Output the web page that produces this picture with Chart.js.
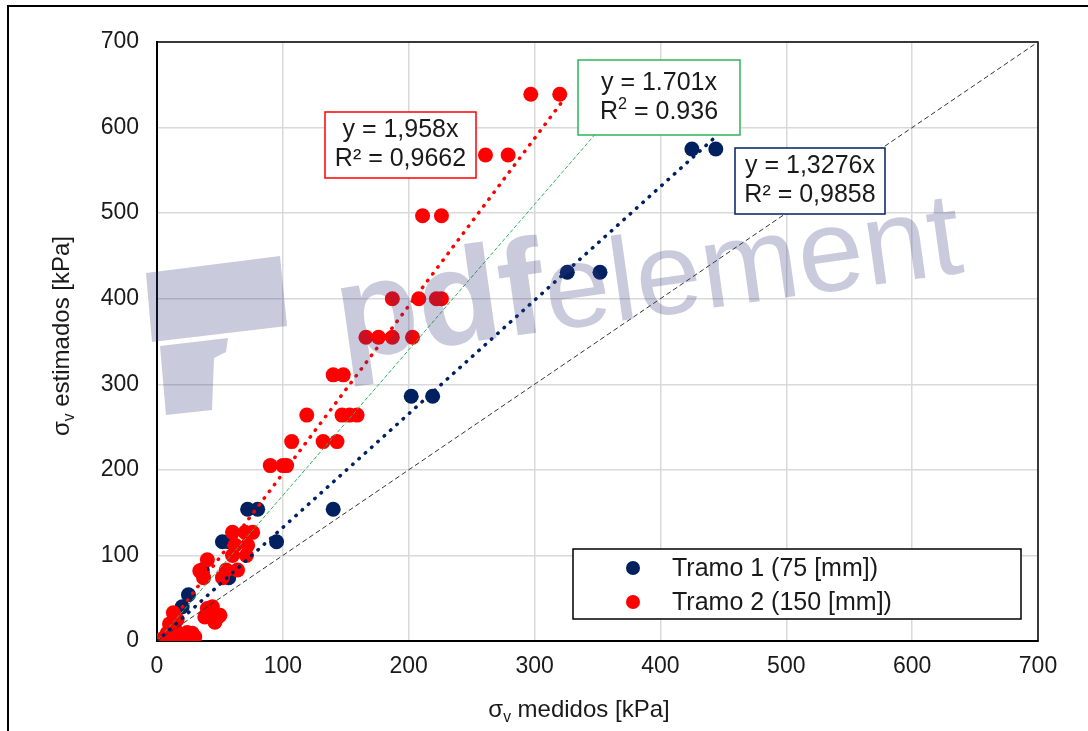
<!DOCTYPE html>
<html>
<head>
<meta charset="utf-8">
<script src="https://cdn.jsdelivr.net/npm/chart.js"></script>
<style>
  html, body { margin: 0; padding: 0; background: #fff; }
  #wrap { width: 1088px; height: 731px; }
</style>
</head>
<body>
<div id="wrap"><canvas id="myChart" width="1088" height="731"></canvas></div>
<script>
// Tramo 1 (75 mm) - measured vs estimated
const tramo1X = [0, 2, 20, 25, 36, 52, 57, 57, 95, 72, 80, 140, 202, 219, 326, 352, 425, 444];
const tramo1Y = [0, 1, 40, 54, 83, 116, 116, 74, 116, 154, 154, 154, 286, 286, 431, 431, 575, 575];

// Tramo 2 (150 mm)
const tramo2X = [2, 5, 8, 12, 15, 18, 22, 24, 28, 30, 10, 13, 16, 38, 40, 44, 48, 46, 50,
                 34, 37, 40, 52, 55, 64, 60, 71, 62, 72, 60, 70, 76, 90, 100, 103,
                 107, 132, 143, 119, 147, 153, 159, 140, 148, 166, 176, 187, 203,
                 187, 208, 222, 226, 211, 226, 261, 279, 297, 320];
const tramo2Y = [1, 3, 9, 5, 12, 6, 8, 10, 9, 5, 20, 33, 25, 28, 38, 40, 28, 22, 30,
                 82, 74, 95, 74, 83, 83, 100, 100, 112, 112, 127, 127, 127, 205, 205, 205,
                 233, 233, 233, 264, 264, 264, 264, 311, 311, 355, 355, 355, 355,
                 400, 400, 400, 400, 497, 497, 568, 568, 639, 639];

// trend lines: slope from the printed equations, x range of the fit
const trendNames = ['Lineal T1', 'Lineal T2', 'Lineal global'];
const trendSlopes = [1.3276, 1.958, 1.701];
const trendXEnd = [445, 323, 350];
const identityX = [0, 700];

const fitText = [
    ['y = 1,3276x', 'R² = 0,9858'],
    ['y = 1,958x', 'R² = 0,9662'],
    ['y = 1.701x', 'R2 = 0.936']
];

const axisTicks = [0, 100, 200, 300, 400, 500, 600, 700];

const navy = '#002060';
const red = '#ff0000';
const green = '#2db45a';

function toPoints(xs, ys) {
    return xs.map((x, i) => ({ x: x, y: ys[i] }));
}

function trendPoints(k) {
    return [{ x: 0, y: 0 }, { x: trendXEnd[k], y: trendXEnd[k] * trendSlopes[k] }];
}

const FONT = "'Liberation Sans', Arial, sans-serif";

// text with a subscript / superscript part
function drawParts(ctx, parts, cx, cy, size) {
    let w = 0;
    parts.forEach(p => {
        ctx.font = (p.sub || p.sup ? size * 0.65 : size) + 'px ' + FONT;
        p.w = ctx.measureText(p.t).width;
        w += p.w;
    });
    let x = cx - w / 2;
    ctx.textBaseline = 'middle';
    ctx.textAlign = 'left';
    parts.forEach(p => {
        ctx.font = (p.sub || p.sup ? size * 0.65 : size) + 'px ' + FONT;
        let dy = p.sub ? size * 0.3 : (p.sup ? -size * 0.3 : 0);
        ctx.fillText(p.t, x, cy + dy);
        x += p.w;
    });
}

function fitBox(ctx, x, y, w, h, color, lines, lineGap) {
    ctx.save();
    ctx.fillStyle = '#fff';
    ctx.fillRect(x, y, w, h);
    ctx.strokeStyle = color;
    ctx.lineWidth = 1.5;
    ctx.strokeRect(x, y, w, h);
    ctx.fillStyle = '#1a1a1a';
    const cx = x + w / 2;
    const cy = y + h / 2;
    lines.forEach((ln, i) => {
        const yy = cy + (i - 0.5) * lineGap;
        if (ln.indexOf('R2') === 0) {
            drawParts(ctx, [{ t: 'R' }, { t: '2', sup: true }, { t: ln.slice(2) }], cx, yy, 25);
        } else {
            drawParts(ctx, [{ t: ln }], cx, yy, 25);
        }
    });
    ctx.restore();
}

const decorPlugin = {
    id: 'decor',
    beforeDatasetsDraw(chart) {
        const ctx = chart.ctx;
        const a = chart.chartArea;
        ctx.save();
        ctx.strokeStyle = '#000';
        ctx.lineWidth = 1.5;
        ctx.strokeRect(a.left, a.top, a.right - a.left, a.bottom - a.top);
        ctx.restore();
    },
    afterDatasetsDraw(chart) {
        const ctx = chart.ctx;
        // watermark
        ctx.save();
        ctx.fillStyle = 'rgba(60, 60, 130, 0.27)';
        ctx.beginPath();
        ctx.moveTo(146, 273); ctx.lineTo(280, 256); ctx.lineTo(287, 326); ctx.lineTo(152, 342);
        ctx.closePath();
        ctx.fill();
        ctx.beginPath();
        ctx.moveTo(160, 346); ctx.lineTo(228, 338); ctx.lineTo(226, 352); ctx.lineTo(214, 358);
        ctx.lineTo(212, 410); ctx.lineTo(166, 415);
        ctx.closePath();
        ctx.fill();
        ctx.translate(342, 360);
        ctx.rotate(-0.14);
        ctx.font = 'bold 135px ' + FONT;
        ctx.textBaseline = 'alphabetic';
        ctx.fillText('pdf', 0, 0);
        const wb = ctx.measureText('pdf').width;
        ctx.font = '118px ' + FONT;
        ctx.fillText('element', wb, 0);
        ctx.restore();
    },
    afterDraw(chart) {
        const ctx = chart.ctx;
        const a = chart.chartArea;
        // fit boxes
        fitBox(ctx, 325, 112, 151, 66, red, fitText[1], 29);
        fitBox(ctx, 578, 60, 162, 75, green, fitText[2], 29);
        fitBox(ctx, 735, 148, 150, 66, navy, fitText[0], 29);

        // legend
        ctx.save();
        ctx.fillStyle = '#fff';
        ctx.fillRect(573, 549, 448, 70);
        ctx.strokeStyle = '#000';
        ctx.lineWidth = 1.5;
        ctx.strokeRect(573, 549, 448, 70);
        const pts = chart.data.datasets.filter(d => d.isSeries);
        pts.forEach((d, i) => {
            const yy = 568 + i * 34;
            ctx.fillStyle = d.backgroundColor;
            ctx.beginPath();
            ctx.arc(633, yy, 7, 0, Math.PI * 2);
            ctx.fill();
            ctx.fillStyle = '#1a1a1a';
            ctx.font = '25px ' + FONT;
            ctx.textAlign = 'left';
            ctx.textBaseline = 'middle';
            ctx.fillText(d.label, 672, yy + 1);
        });
        ctx.restore();

        // axis titles
        ctx.save();
        ctx.fillStyle = '#1a1a1a';
        drawParts(ctx, [{ t: 'σ' }, { t: 'v', sub: true }, { t: ' medidos [kPa]' }], 579, 710, 24);
        ctx.translate(62, 336);
        ctx.rotate(-Math.PI / 2);
        drawParts(ctx, [{ t: 'σ' }, { t: 'v', sub: true }, { t: ' estimados [kPa]' }], 0, 0, 24);
        ctx.restore();

        // outer frame
        ctx.save();
        ctx.strokeStyle = '#000';
        ctx.lineWidth = 2;
        ctx.strokeRect(8, 6, 1120, 760);
        ctx.restore();
    }
};

const datasets = [
    {
        label: trendNames[0], type: 'line', data: trendPoints(0), order: 0,
        borderColor: navy, borderWidth: 3.5, borderDash: [0.5, 8], borderCapStyle: 'round',
        pointRadius: 0, fill: false
    },
    {
        label: trendNames[1], type: 'line', data: trendPoints(1), order: 0,
        borderColor: red, borderWidth: 3.5, borderDash: [0.5, 8], borderCapStyle: 'round',
        pointRadius: 0, fill: false
    },
    {
        label: trendNames[2], type: 'line', data: trendPoints(2), order: 0,
        borderColor: green, borderWidth: 1, borderDash: [4, 2],
        pointRadius: 0, fill: false
    },
    {
        label: '1:1', type: 'line', data: toPoints(identityX, identityX), order: 1,
        borderColor: '#333', borderWidth: 1, borderDash: [5, 3],
        pointRadius: 0, fill: false
    },
    {
        label: 'Tramo 1 (75 [mm])', data: toPoints(tramo1X, tramo1Y), order: 3, isSeries: true,
        backgroundColor: navy, borderColor: navy, pointRadius: 7.5, borderWidth: 0
    },
    {
        label: 'Tramo 2 (150 [mm])', data: toPoints(tramo2X, tramo2Y), order: 2, isSeries: true,
        backgroundColor: red, borderColor: red, pointRadius: 7.5, borderWidth: 0
    }
];

const tickFont = { family: FONT, size: 23 };

const config = {
    type: 'scatter',
    data: { datasets: datasets },
    options: {
        responsive: false,
        animation: false,
        layout: { padding: { left: 0, top: 42, right: 50, bottom: 0 } },
        plugins: {
            legend: { display: false },
            tooltip: { enabled: false }
        },
        scales: {
            x: {
                type: 'linear', min: 0, max: 700,
                afterBuildTicks: s => { s.ticks = axisTicks.map(v => ({ value: v })); },
                afterFit: s => { s.height = 90; },
                ticks: { font: tickFont, color: '#1a1a1a', padding: 12, maxRotation: 0 },
                grid: { color: '#d9d9d9', lineWidth: 1.5, drawTicks: false },
                border: { display: true, color: '#000', width: 2 }
            },
            y: {
                type: 'linear', min: 0, max: 700,
                afterBuildTicks: s => { s.ticks = axisTicks.map(v => ({ value: v })); },
                afterFit: s => { s.width = 157; },
                ticks: { font: tickFont, color: '#1a1a1a', padding: 18 },
                grid: { color: '#d9d9d9', lineWidth: 1.5, drawTicks: false },
                border: { display: true, color: '#000', width: 2 }
            }
        }
    },
    plugins: [decorPlugin]
};

const ctx = document.getElementById('myChart').getContext('2d');
new Chart(ctx, config);
</script>
</body>
</html>
